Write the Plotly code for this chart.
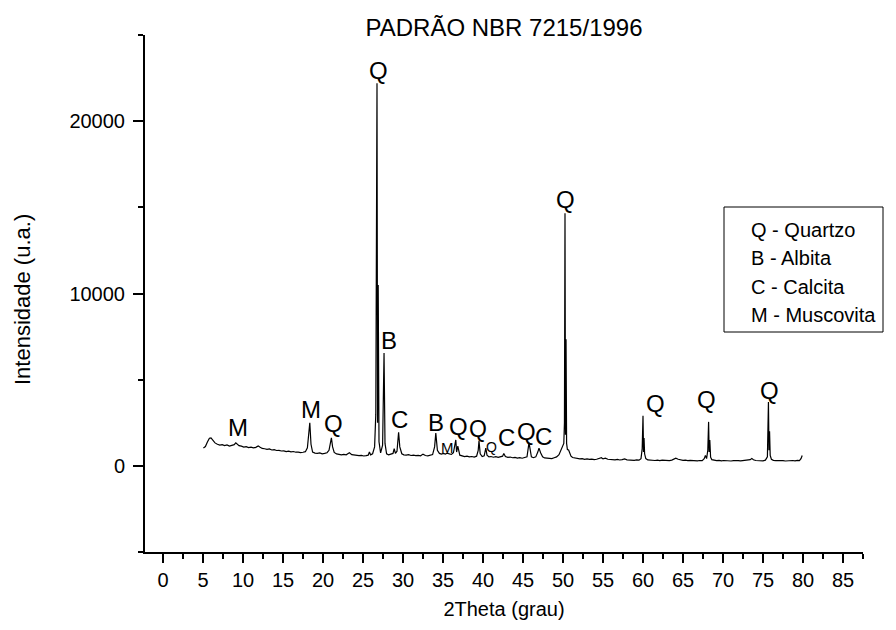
import plotly.graph_objects as go

# Difratograma de raios X - padrão NBR 7215/1996 (2θ em graus, intensidade em u.a.)
scan_05_20 = [
    (5.05, 1030), (5.3, 1120), (5.55, 1380), (5.8, 1600), (6.0, 1620), (6.25, 1480),
    (6.5, 1330), (6.8, 1250), (7.1, 1200), (7.4, 1230), (7.7, 1170), (8.0, 1210),
    (8.3, 1150), (8.6, 1190), (8.9, 1230), (9.1, 1330), (9.3, 1260), (9.5, 1170),
    (9.8, 1140), (10.1, 1090), (10.4, 1110), (10.7, 1060), (11.0, 1080), (11.3, 1040),
    (11.6, 1070), (11.9, 1150), (12.1, 1090), (12.4, 1010), (12.7, 990), (13.0, 960),
    (13.3, 980), (13.6, 920), (13.9, 940), (14.2, 890), (14.5, 900), (14.8, 860),
    (15.1, 870), (15.4, 830), (15.7, 850), (16.0, 810), (16.3, 830), (16.6, 790),
    (16.9, 800), (17.2, 770), (17.5, 790), (17.8, 820), (18.05, 1050), (18.2, 1700),
    (18.35, 2500), (18.5, 1250), (18.7, 800), (19.0, 740), (19.3, 720), (19.6, 750),
    (19.9, 700),
]
scan_20_35 = [
    (20.2, 720), (20.5, 760), (20.75, 900), (20.9, 1250), (21.05, 1620), (21.2, 1100),
    (21.4, 780), (21.7, 690), (22.0, 660), (22.3, 640), (22.6, 670), (22.9, 640),
    (23.1, 700), (23.3, 760), (23.6, 650), (23.9, 620), (24.2, 630), (24.5, 590),
    (24.8, 610), (25.1, 570), (25.4, 590), (25.65, 620), (25.8, 800), (25.95, 640),
    (26.2, 700), (26.45, 1100), (26.6, 3000), (26.75, 22200), (26.82, 2500),
    (26.9, 10500), (27.0, 1400), (27.2, 750), (27.45, 1200), (27.63, 6550),
    (27.75, 1300), (27.95, 700), (28.2, 640), (28.5, 660), (28.75, 720), (28.9, 1000),
    (29.05, 720), (29.25, 850), (29.45, 1950), (29.6, 1100), (29.85, 700), (30.1, 640),
    (30.4, 620), (30.7, 650), (31.0, 600), (31.3, 620), (31.6, 590), (31.9, 610),
    (32.2, 580), (32.5, 680), (32.8, 600), (33.1, 580), (33.4, 610), (33.7, 650),
    (33.95, 1100), (34.1, 1900), (34.3, 900), (34.55, 720), (34.8, 680),
]
scan_35_50 = [
    (35.05, 720), (35.3, 680), (35.55, 740), (35.8, 690), (36.05, 660), (36.3, 760),
    (36.5, 1200), (36.6, 1500), (36.7, 800), (36.85, 1150), (37.1, 620), (37.4, 560),
    (37.7, 540), (38.0, 560), (38.3, 520), (38.6, 540), (38.9, 510), (39.2, 560),
    (39.4, 900), (39.5, 1450), (39.65, 700), (39.9, 540), (40.15, 580), (40.35, 1030),
    (40.5, 620), (40.75, 520), (41.0, 540), (41.3, 500), (41.6, 530), (41.9, 490),
    (42.2, 510), (42.45, 560), (42.6, 720), (42.8, 540), (43.1, 490), (43.4, 510),
    (43.7, 470), (44.0, 490), (44.3, 450), (44.6, 470), (44.9, 440), (45.2, 460),
    (45.5, 520), (45.75, 1350), (45.9, 800), (46.05, 520), (46.3, 470), (46.6, 520),
    (46.85, 800), (47.0, 1030), (47.2, 760), (47.45, 520), (47.7, 460), (48.0, 440),
    (48.3, 460), (48.6, 420), (48.9, 470), (49.2, 520), (49.5, 650), (49.75, 900),
    (49.95, 1200),
]
scan_50_65 = [
    (50.1, 1300), (50.18, 2500), (50.25, 14650), (50.31, 1800), (50.38, 7350),
    (50.45, 1300), (50.55, 950), (50.7, 920), (50.85, 700), (51.0, 560), (51.2, 480),
    (51.5, 450), (51.8, 430), (52.1, 400), (52.4, 420), (52.7, 380), (53.0, 400),
    (53.3, 370), (53.6, 390), (53.9, 360), (54.2, 380), (54.5, 420), (54.8, 470),
    (55.0, 400), (55.3, 440), (55.6, 380), (55.9, 360), (56.2, 380), (56.5, 350),
    (56.8, 370), (57.1, 340), (57.4, 360), (57.7, 400), (58.0, 350), (58.3, 330),
    (58.6, 350), (58.9, 320), (59.2, 340), (59.5, 330), (59.75, 420), (59.9, 1000),
    (60.0, 2900), (60.07, 800), (60.13, 1620), (60.2, 700), (60.35, 420), (60.6, 340),
    (60.9, 320), (61.2, 340), (61.5, 310), (61.8, 330), (62.1, 300), (62.4, 330),
    (62.7, 310), (63.0, 320), (63.3, 300), (63.6, 330), (63.9, 380), (64.1, 440),
    (64.4, 380), (64.7, 340),
]
scan_65_80 = [
    (65.0, 320), (65.3, 330), (65.6, 300), (65.9, 320), (66.2, 300), (66.5, 310),
    (66.8, 290), (67.1, 310), (67.4, 300), (67.65, 420), (67.8, 600), (67.95, 420),
    (68.1, 900), (68.2, 2550), (68.27, 800), (68.35, 1500), (68.45, 500), (68.6, 360),
    (68.9, 320), (69.2, 300), (69.5, 320), (69.8, 290), (70.1, 310), (70.4, 290),
    (70.7, 300), (71.0, 280), (71.3, 300), (71.6, 280), (71.9, 300), (72.2, 290),
    (72.5, 300), (72.8, 320), (73.1, 310), (73.4, 360), (73.6, 430), (73.8, 350),
    (74.1, 310), (74.4, 290), (74.7, 300), (75.0, 290), (75.3, 330), (75.55, 520),
    (75.68, 3700), (75.75, 900), (75.82, 2000), (75.9, 600), (76.05, 380), (76.3, 320),
    (76.6, 300), (76.9, 310), (77.2, 290), (77.5, 300), (77.8, 280), (78.1, 300),
    (78.4, 290), (78.7, 310), (79.0, 290), (79.3, 320), (79.55, 300), (79.75, 420),
    (79.9, 600),
]

# Identificação das fases: letra, posição (2θ), altura do rótulo, tamanho da fonte
phase_letters = ["M", "M", "Q", "Q", "B", "C", "B", "M", "Q", "Q", "Q", "C", "Q", "C",
                 "Q", "Q", "Q", "Q"]
phase_x = [9.4, 18.5, 21.25, 26.9, 28.25, 29.6, 34.1, 35.55, 36.9, 39.4, 41.1, 42.9,
           45.4, 47.6, 50.25, 61.5, 67.9, 75.75]
phase_y = [2200, 3250, 2440, 22950, 7250, 2670, 2490, 1080, 2300, 2150, 1080, 1620,
           1970, 1680, 15430, 3600, 3830, 4400]
phase_size = [24, 24, 24, 24, 24, 24, 24, 15, 24, 23, 14, 24, 24, 24, 24, 24, 24, 24]

legend_lines = ["Q - Quartzo", "B - Albita", "C - Calcita", "M - Muscovita"]

pattern = scan_05_20 + scan_20_35 + scan_35_50 + scan_50_65 + scan_65_80
two_theta = [p[0] for p in pattern]
intensity = [p[1] for p in pattern]

FONT = "Liberation Sans, Arial, sans-serif"

fig = go.Figure()
fig.add_trace(go.Scatter(
    x=two_theta, y=intensity, mode="lines",
    line=dict(color="black", width=1.2), showlegend=False, hoverinfo="x+y",
))

annotations = []
for letter, px, py, fs in zip(phase_letters, phase_x, phase_y, phase_size):
    annotations.append(dict(
        x=px, y=py, xref="x", yref="y", text=letter, showarrow=False,
        xanchor="center", yanchor="middle", font=dict(family=FONT, size=fs, color="black"),
    ))

# Posições em pixels convertidas para coordenadas do papel
W, H, L, T = 718, 517, 145, 35
def to_paper_x(px):
    return (px - L) / W
def to_paper_y(py):
    return (T + H - py) / H

# Caixa de legenda das fases
legend_rows_y = [230, 258, 287, 315]
for txt, ry in zip(legend_lines, legend_rows_y):
    annotations.append(dict(
        x=to_paper_x(749), y=to_paper_y(ry), xref="paper", yref="paper", text=txt,
        showarrow=False, xanchor="left", yanchor="middle",
        font=dict(family=FONT, size=20, color="black"),
    ))

fig.add_shape(
    type="rect", xref="paper", yref="paper",
    x0=to_paper_x(724), x1=to_paper_x(883), y0=to_paper_y(332), y1=to_paper_y(207),
    line=dict(color="black", width=1), fillcolor="white", layer="above",
)

# Título do eixo vertical
annotations.append(dict(
    x=to_paper_x(22), y=to_paper_y(300), xref="paper", yref="paper",
    text="Intensidade (u.a.)", textangle=-90, showarrow=False,
    xanchor="center", yanchor="middle", font=dict(family=FONT, size=22, color="black"),
))

axis_common = dict(
    showline=True, linecolor="black", linewidth=2, showgrid=False, zeroline=False,
    ticks="outside", tickcolor="black", tickwidth=2,
    tickfont=dict(family=FONT, size=20, color="black"),
)

fig.update_layout(
    width=896, height=630,
    margin=dict(l=L, r=896 - L - W, t=T, b=630 - T - H),
    paper_bgcolor="white", plot_bgcolor="white",
    title=dict(text="PADRÃO NBR 7215/1996", x=to_paper_x(504), xref="paper",
               y=1 - 28 / 630, yref="container", xanchor="center", yanchor="middle",
               font=dict(family=FONT, size=24, color="black")),
    xaxis=dict(
        range=[-2.25, 87.5], tick0=0, dtick=5, ticklen=9,
        minor=dict(dtick=2.5, tick0=0, ticklen=5, ticks="outside", tickcolor="black", tickwidth=2),
        title=dict(text="2Theta (grau)", font=dict(family=FONT, size=20, color="black"), standoff=12),
        **axis_common,
    ),
    yaxis=dict(
        range=[-5000, 25000], tick0=0, dtick=10000, ticklen=10, ticklabelstandoff=4,
        tickformat="d",
        minor=dict(dtick=5000, tick0=0, ticklen=5, ticks="outside", tickcolor="black", tickwidth=2),
        **axis_common,
    ),
    annotations=annotations,
)

fig.write_html("out.html")
